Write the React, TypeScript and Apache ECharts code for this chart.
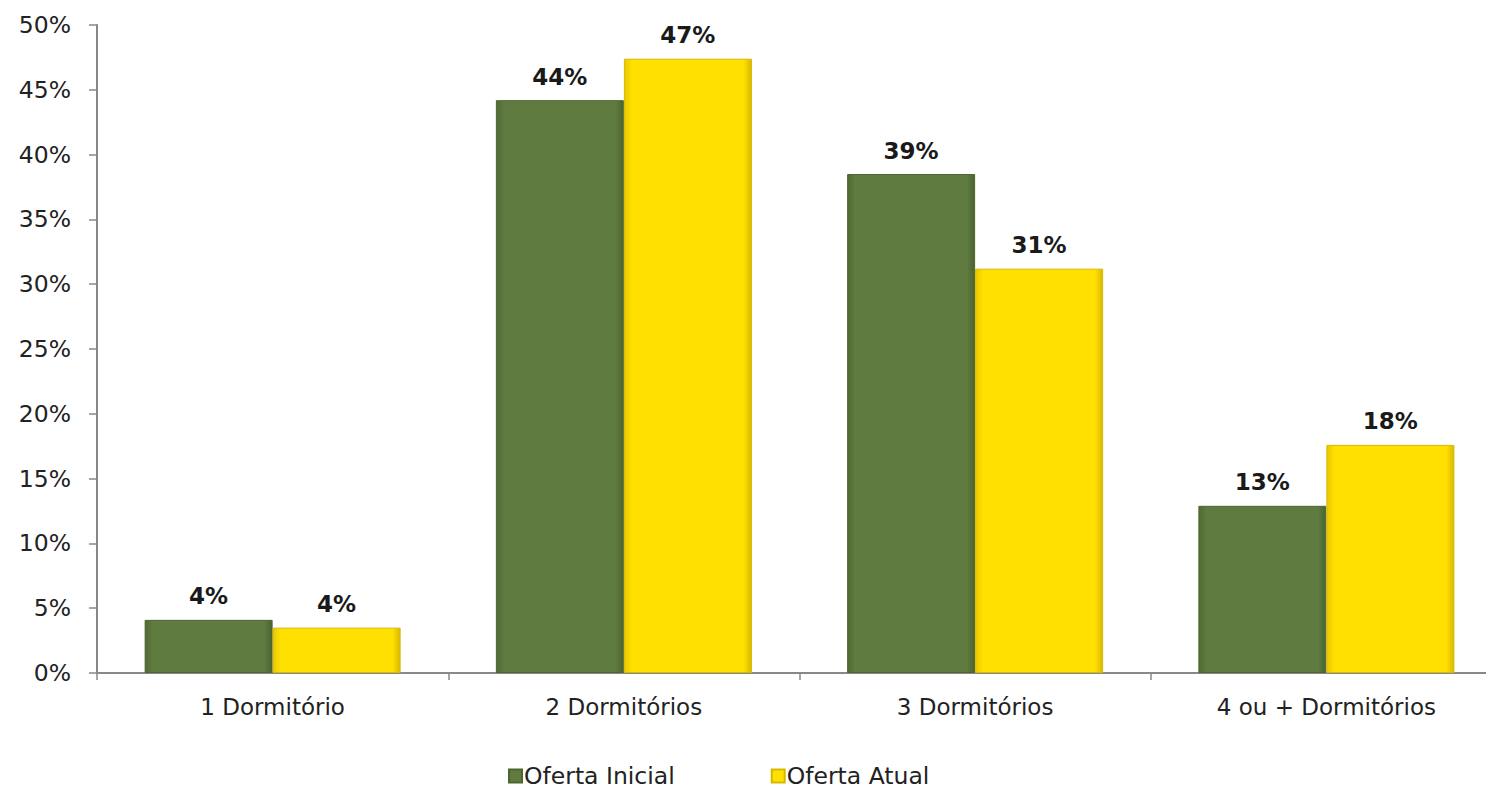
import React, { useEffect, useRef } from "react";
import * as echarts from "echarts";

const categories = ["1 Dormitório", "2 Dormitórios", "3 Dormitórios", "4 ou + Dormitórios"];
const ofertaInicial = [4.1, 44.2, 38.5, 12.9];
const ofertaAtual = [3.5, 47.4, 31.2, 17.6];
const labelsInicial = ["4%", "44%", "39%", "13%"];
const labelsAtual = ["4%", "47%", "31%", "18%"];
const seriesNames = ["Oferta Inicial", "Oferta Atual"];

const FONT = "'DejaVu Sans', Verdana, sans-serif";

export default function App() {
  const ref = useRef<HTMLDivElement>(null);
  useEffect(() => {
    if (!ref.current) return;
    const chart = echarts.init(ref.current, undefined, { renderer: "svg" });
    const mkLabel = (arr: string[]) => ({
      show: true,
      position: "top",
      distance: 12,
      formatter: (p: any) => arr[p.dataIndex],
      fontFamily: FONT,
      fontWeight: "bold",
      fontSize: 23,
      color: "#1a1a1a",
    });
    chart.setOption({
      animation: false,
      backgroundColor: "#ffffff",
      grid: { left: 97, right: 0, top: 25, bottom: 122, containLabel: false },
      legend: {
        top: 762,
        left: 508,
        padding: 0,
        itemWidth: 13,
        itemHeight: 13,
        itemGap: 96,
        icon: "rect",
        textStyle: { fontFamily: FONT, fontSize: 23.5, lineHeight: 28, color: "#222", padding: [0, 0, 0, -3] },
        data: seriesNames,
      },
      xAxis: {
        type: "category",
        data: categories,
        axisLine: { lineStyle: { color: "#888", width: 2 } },
        axisTick: { show: true, length: 7, lineStyle: { color: "#888", width: 1.5 } },
        axisLabel: { fontFamily: FONT, fontSize: 23, color: "#222", margin: 22 },
      },
      yAxis: {
        type: "value",
        min: 0,
        max: 50,
        interval: 5,
        splitLine: { show: false },
        axisLine: { show: true, lineStyle: { color: "#888", width: 2 } },
        axisTick: { show: true, length: 8, lineStyle: { color: "#888", width: 1.5 } },
        axisLabel: { formatter: "{value}%", fontFamily: FONT, fontSize: 23.5, color: "#222", margin: 26 },
      },
      series: [
        {
          name: seriesNames[0],
          type: "bar",
          data: ofertaInicial,
          barWidth: 128,
          barGap: "0%",
          itemStyle: {
            color: {
              type: "linear", x: 0, y: 0, x2: 1, y2: 0,
              colorStops: [
                { offset: 0, color: "#4f6a33" },
                { offset: 0.06, color: "#5f7b40" },
                { offset: 0.94, color: "#5f7b40" },
                { offset: 1, color: "#4a632f" },
              ],
            },
            borderColor: "#4d6531",
            borderWidth: 1,
          },
          label: mkLabel(labelsInicial),
        },
        {
          name: seriesNames[1],
          type: "bar",
          data: ofertaAtual,
          barWidth: 128,
          itemStyle: {
            color: {
              type: "linear", x: 0, y: 0, x2: 1, y2: 0,
              colorStops: [
                { offset: 0, color: "#e8c800" },
                { offset: 0.06, color: "#ffe000" },
                { offset: 0.94, color: "#ffe000" },
                { offset: 1, color: "#d9b900" },
              ],
            },
            borderColor: "#d7b800",
            borderWidth: 1,
          },
          label: mkLabel(labelsAtual),
        },
      ],
    });
    return () => chart.dispose();
  }, []);
  return (
    <div style={{ position: "absolute", left: 0, top: 0, width: 1486, height: 795, overflow: "hidden", background: "#fff" }}>
      <div ref={ref} style={{ width: 1502, height: 795 }} />
    </div>
  );
}
